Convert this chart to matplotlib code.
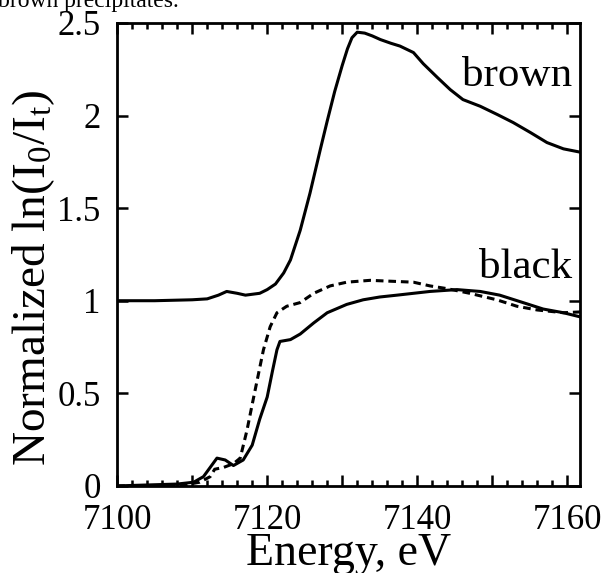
import matplotlib
matplotlib.use("Agg")
import matplotlib.pyplot as plt
from matplotlib.ticker import MultipleLocator, FuncFormatter

plt.rcParams['font.family'] = ['Liberation Serif', 'DejaVu Serif']
plt.rcParams['mathtext.fontset'] = 'custom'
plt.rcParams['mathtext.rm'] = 'Liberation Serif'
plt.rcParams['mathtext.it'] = 'Liberation Serif'

# brown precipitate (upper solid curve)
brown_e = [7100, 7105, 7110, 7112, 7113.5, 7114.6, 7116, 7117.1, 7119, 7120, 7121.1,
           7122.2, 7123.1, 7124.4, 7125.7, 7127.1, 7128, 7129, 7130, 7130.7, 7131.3,
           7132, 7133, 7134, 7135.1, 7136.5, 7137.7, 7139.5, 7140.8, 7142.7, 7144.4,
           7146.1, 7148.4, 7150.7, 7152.8, 7155.1, 7157.3, 7159.5, 7162]
brown_v = [1.0, 1.0, 1.005, 1.01, 1.03, 1.05, 1.04, 1.03, 1.04, 1.06, 1.09,
           1.15, 1.22, 1.38, 1.58, 1.82, 1.97, 2.13, 2.27, 2.36, 2.42,
           2.45, 2.445, 2.43, 2.41, 2.39, 2.375, 2.34, 2.28, 2.205, 2.14,
           2.086, 2.05, 2.005, 1.962, 1.908, 1.854, 1.82, 1.80]

# black precipitate (lower solid curve)
black_e = [7100, 7104, 7108, 7110.2, 7111.5, 7112.4, 7113.3, 7114.4, 7115.5, 7116.8,
           7118, 7119, 7120, 7120.7, 7121.3, 7121.7, 7123.1, 7124.4, 7126.2, 7128,
           7130.6, 7132.8, 7135, 7137.3, 7141.7, 7145.3, 7148.4, 7151, 7154.1,
           7156.8, 7159.5, 7162]
black_v = [0.0, 0.005, 0.01, 0.02, 0.05, 0.10, 0.15, 0.14, 0.11, 0.14,
           0.22, 0.36, 0.48, 0.62, 0.735, 0.78, 0.79, 0.82, 0.88, 0.935,
           0.98, 1.005, 1.02, 1.03, 1.05, 1.06, 1.05, 1.03, 0.99,
           0.955, 0.935, 0.91]

# reference (dashed curve)
ref_e = [7100, 7105, 7109, 7111, 7112.4, 7113, 7114.2, 7115.5, 7116.4, 7117.3,
         7118.2, 7119.5, 7120.4, 7121.3, 7122.6, 7124.4, 7126.2, 7128.4, 7130.6,
         7133.7, 7139.5, 7141.7, 7144, 7147, 7150.6, 7153.3, 7156, 7159.5, 7162]
ref_v = [0.0, 0.0, 0.005, 0.02, 0.05, 0.09, 0.10, 0.12, 0.15, 0.30,
         0.48, 0.735, 0.86, 0.935, 0.97, 0.99, 1.04, 1.08, 1.10,
         1.11, 1.10, 1.08, 1.065, 1.04, 1.005, 0.97, 0.95, 0.935, 0.94]

fig = plt.figure(figsize=(6.01, 5.73), dpi=100)
ax = fig.add_axes([0.195, 0.152, 0.770, 0.808])

ax.plot(brown_e, brown_v, color='black', linewidth=2.2)
ax.plot(black_e, black_v, color='black', linewidth=2.2)
ax.plot(ref_e, ref_v, color='black', linewidth=2.2, linestyle=(0, (2.5, 1.6)))

ax.set_xlim(7100, 7161.7)
ax.set_ylim(0, 2.5)

ax.xaxis.set_major_locator(MultipleLocator(10))
ax.xaxis.set_minor_locator(MultipleLocator(2))
ax.xaxis.set_major_formatter(FuncFormatter(lambda v, p: '%d' % v if round(v) % 20 == 0 else ''))
ax.yaxis.set_major_locator(MultipleLocator(0.5))
ax.yaxis.set_major_formatter(FuncFormatter(lambda v, p: '%g' % v))

ax.tick_params(which='both', direction='in', top=True, right=True, width=1.8, labelsize=25)
ax.tick_params(which='major', length=8)
ax.tick_params(which='minor', length=4.5)
ax.tick_params(axis='x', pad=13)
ax.tick_params(axis='y', pad=12)
for s in ax.spines.values():
    s.set_linewidth(2)

ax.text(7160.7, 2.16, 'brown', fontsize=31, ha='right', va='baseline')
ax.text(7160.7, 1.125, 'black', fontsize=31, ha='right', va='baseline')

ax.set_xlabel('Energy, eV', fontsize=33)
ax.xaxis.set_label_coords(0.5, -0.1)
ax.set_ylabel(r'Normalized ln(I$_\mathrm{0}$/I$_\mathrm{t}$)', fontsize=34)
ax.yaxis.set_label_coords(-0.13, 0.45)

fig.text(-0.004, 1 - 7 / 573, 'brown precipitates.', fontsize=17, va='baseline', ha='left')

plt.savefig('out.png', dpi=100)
